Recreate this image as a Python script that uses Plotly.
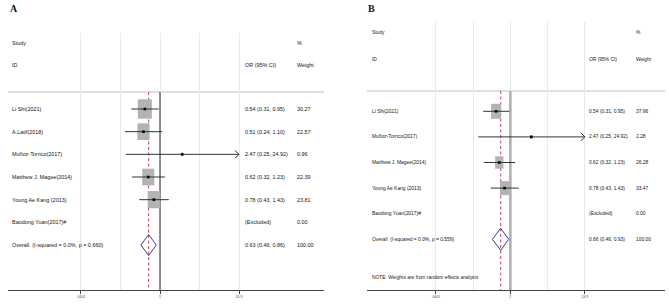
import math
import plotly.graph_objects as go

# ---------------- data ----------------
studies_a = ["Li Shi(2021)", "A.Latif(2018)", "Muñoz-Torrico(2017)", "Matthew J. Magee(2014)",
             "Young Ae Kang (2013)", "Baodong Yuan(2017)#"]
or_a = [0.54, 0.51, 2.47, 0.62, 0.78, None]
lo_a = [0.31, 0.24, 0.25, 0.32, 0.43, None]
hi_a = [0.95, 1.10, 24.92, 1.23, 1.43, None]
wt_a = [30.27, 22.57, 0.96, 22.39, 23.81, 0.00]
overall_a = (0.63, 0.46, 0.86)
het_a = "Overall  (I-squared = 0.0%, p = 0.660)"

studies_b = ["Li Shi(2021)", "Muñoz-Torrico(2017)", "Matthew J. Magee(2014)",
             "Young Ae Kang (2013)", "Baodong Yuan(2017)#"]
or_b = [0.54, 2.47, 0.62, 0.78, None]
lo_b = [0.31, 0.25, 0.32, 0.43, None]
hi_b = [0.95, 24.92, 1.23, 1.43, None]
wt_b = [37.96, 2.28, 26.28, 33.47, 0.00]
overall_b = (0.66, 0.46, 0.93)
het_b = "Overall  (I-squared = 0.0%, p = 0.559)"

tick_vals = [0.0401, 1, 24.9]
tick_text = [".0401", "1", "24.9"]
grid_minor = [0.2, 5]

# ---------------- layout helpers ----------------
W, H = 669, 308
def px(x): return x / W
def py(y): return 1 - y / H

FONT = "Liberation Sans Narrow, Arial Narrow, Liberation Sans, Arial"
TXT = "#151515"
XR = [-2.686, 2.898]

panels = [
    dict(name="A", xa="x", ya="y", xl=8, xr=324, row0=109, step=22.67, top=33, axis=290,
         studies=studies_a, est=or_a, lo=lo_a, hi=hi_a, wt=wt_a, ov=overall_a, het=het_a,
         txt_x=10, or_x=243, wt_x=295, study_y=43, id_y=65, hline_y=92, fs=5.45,
         box_k=2.55, box_ratio=1.38, dia_h=10.5, null_col="#555555", null_w=1.3,
         label=(14, 8), note=None),
    dict(name="B", xa="x2", ya="y2", xl=367, xr=665, row0=111.3, step=25.6, top=22, axis=290,
         studies=studies_b, est=or_b, lo=lo_b, hi=hi_b, wt=wt_b, ov=overall_b, het=het_b,
         txt_x=370, or_x=587, wt_x=634, study_y=33, id_y=60, hline_y=91, fs=4.9,
         box_k=1.62, box_ratio=1.5, dia_h=11, null_col="#b0b0b0", null_w=2.6,
         label=(371, 8.5), note=("NOTE: Weights are from random effects analysis", 277.7)),
]

fig = go.Figure()
annotations = []
shapes = []

for i, p in enumerate(panels):
    xa, ya = p["xa"], p["ya"]
    ppd = (p["xr"] - p["xl"]) / (XR[1] - XR[0])  # pixels per decade
    step = p["step"]
    def row_of(pix, p=p):
        return (pix - p["row0"]) / p["step"] + 1
    y_bottom = row_of(p["axis"])
    y_top = row_of(p["top"])
    y_hline = row_of(p["hline_y"])
    n = len(p["studies"])
    axis_idx = "" if i == 0 else "2"

    fig.update_layout(**{
        "xaxis" + axis_idx: dict(
            type="log", range=XR, domain=[px(p["xl"]), px(p["xr"])], anchor=ya,
            tickvals=tick_vals, ticktext=tick_text, ticks="outside", ticklen=3,
            tickcolor="#444", tickwidth=1, tickfont=dict(size=3.5, color="#444", family=FONT),
            showline=True, linecolor="#444", linewidth=1.4, zeroline=False,
            showgrid=True, gridcolor="#e4eded", gridwidth=1,
            minor=dict(tickvals=grid_minor, showgrid=True, gridcolor="#e4eded", gridwidth=1, ticks=""),
            fixedrange=True),
        "yaxis" + axis_idx: dict(
            range=[y_bottom, y_top], domain=[py(p["axis"]), py(p["top"])], anchor=xa,
            visible=False, fixedrange=True),
    })

    # horizontal header line
    shapes.append(dict(type="line", xref=xa + " domain", yref=ya, x0=0, x1=1, y0=y_hline, y1=y_hline,
                       line=dict(color="#d4d4d4", width=1.5), layer="below"))

    # null line
    fig.add_trace(go.Scatter(x=[1, 1], y=[y_hline, y_bottom], mode="lines", xaxis=xa, yaxis=ya,
                             line=dict(color=p["null_col"], width=p["null_w"]), hoverinfo="skip"))
    # overall dashed line
    ov_est, ov_lo, ov_hi = p["ov"]
    fig.add_trace(go.Scatter(x=[ov_est, ov_est], y=[y_hline, y_bottom], mode="lines", xaxis=xa, yaxis=ya,
                             line=dict(color="#c8405a", width=1, dash="3px,2.5px"), hoverinfo="skip"))

    xmax = tick_vals[-1]
    for r in range(n):
        row = r + 1
        est, lo, hi, w = p["est"][r], p["lo"][r], p["hi"][r], p["wt"][r]
        if est is not None:
            # weight box
            bw = p["box_k"] * math.sqrt(w) / 2
            bh = bw * p["box_ratio"] / step
            f = 10 ** (bw / ppd)
            fig.add_trace(go.Scatter(
                x=[est / f, est * f, est * f, est / f, est / f],
                y=[row - bh, row - bh, row + bh, row + bh, row - bh],
                mode="lines", fill="toself", fillcolor="#b3b3b3", line=dict(width=0),
                xaxis=xa, yaxis=ya, hoverinfo="skip"))
            # CI line
            hi_draw = min(hi, xmax)
            fig.add_trace(go.Scatter(x=[lo, hi_draw], y=[row, row], mode="lines", xaxis=xa, yaxis=ya,
                                     line=dict(color="#333333", width=1), hoverinfo="skip"))
            if hi > xmax:
                g = 10 ** (-4 / ppd)
                fig.add_trace(go.Scatter(x=[xmax * g, xmax, xmax * g], y=[row - 4 / step, row, row + 4 / step],
                                         mode="lines", xaxis=xa, yaxis=ya,
                                         line=dict(color="#333333", width=1), hoverinfo="skip"))
            # center point
            fig.add_trace(go.Scatter(x=[est], y=[row], mode="markers", xaxis=xa, yaxis=ya,
                                     marker=dict(symbol="square", size=2.6, color="#000000"),
                                     hoverinfo="skip"))
            or_txt = f"{est:.2f} ({lo:.2f}, {hi:.2f})"
        else:
            or_txt = "(Excluded)"
        annotations.append(dict(x=px(p["txt_x"]), xref="paper", y=row, yref=ya, text=p["studies"][r],
                                showarrow=False, xanchor="left", yanchor="middle",
                                font=dict(size=p["fs"], color=TXT, family=FONT)))
        annotations.append(dict(x=px(p["or_x"]), xref="paper", y=row, yref=ya, text=or_txt,
                                showarrow=False, xanchor="left", yanchor="middle",
                                font=dict(size=p["fs"], color=TXT, family=FONT)))
        annotations.append(dict(x=px(p["wt_x"]), xref="paper", y=row, yref=ya, text=f"{w:.2f}",
                                showarrow=False, xanchor="left", yanchor="middle",
                                font=dict(size=p["fs"], color=TXT, family=FONT)))

    # overall diamond
    orow = n + 1
    dh = p["dia_h"] / step
    fig.add_trace(go.Scatter(x=[ov_lo, ov_est, ov_hi, ov_est, ov_lo], y=[orow, orow - dh, orow, orow + dh, orow],
                             mode="lines", xaxis=xa, yaxis=ya, line=dict(color="#3a3a9e", width=1),
                             hoverinfo="skip"))
    annotations.append(dict(x=px(p["txt_x"]), xref="paper", y=orow, yref=ya, text=p["het"],
                            showarrow=False, xanchor="left", yanchor="middle",
                            font=dict(size=p["fs"], color=TXT, family=FONT)))
    annotations.append(dict(x=px(p["or_x"]), xref="paper", y=orow, yref=ya,
                            text=f"{ov_est:.2f} ({ov_lo:.2f}, {ov_hi:.2f})",
                            showarrow=False, xanchor="left", yanchor="middle",
                            font=dict(size=p["fs"], color=TXT, family=FONT)))
    annotations.append(dict(x=px(p["wt_x"]), xref="paper", y=orow, yref=ya, text="100.00",
                            showarrow=False, xanchor="left", yanchor="middle",
                            font=dict(size=p["fs"], color=TXT, family=FONT)))

    # headers
    for txt, xx, yy in [("Study", p["txt_x"], p["study_y"]), ("ID", p["txt_x"], p["id_y"]),
                        ("%", p["wt_x"], p["study_y"]), ("OR (95% CI)", p["or_x"], p["id_y"]),
                        ("Weight", p["wt_x"], p["id_y"])]:
        annotations.append(dict(x=px(xx), xref="paper", y=py(yy), yref="paper", text=txt,
                                showarrow=False, xanchor="left", yanchor="middle",
                                font=dict(size=p["fs"], color=TXT, family=FONT)))
    if p["note"]:
        annotations.append(dict(x=px(p["txt_x"]), xref="paper", y=py(p["note"][1]), yref="paper",
                                text=p["note"][0], showarrow=False, xanchor="left", yanchor="middle",
                                font=dict(size=p["fs"], color=TXT, family=FONT)))
    # panel label
    annotations.append(dict(x=px(p["label"][0]), xref="paper", y=py(p["label"][1]), yref="paper",
                            text="<b>" + p["name"] + "</b>", showarrow=False, xanchor="center",
                            yanchor="middle",
                            font=dict(size=10, color="#111", family="Liberation Serif, Times New Roman, serif")))

fig.update_layout(width=W, height=H, margin=dict(l=0, r=0, t=0, b=0), showlegend=False,
                  paper_bgcolor="white", plot_bgcolor="white",
                  annotations=annotations, shapes=shapes)

# remove the browser's default 8px page margin so the figure fills the window exactly
fig.write_html("out.html", config={"displayModeBar": False},
               post_script="document.body.style.margin='0px';")
